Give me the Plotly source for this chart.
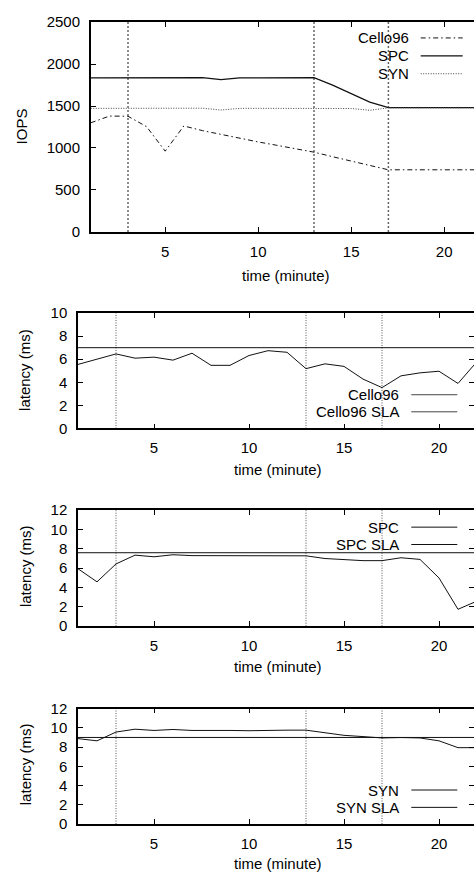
import plotly.graph_objects as go

# ---------------- data ----------------
minutes = list(range(1, 23))
phase_marks = [3, 13, 17]

iops_cello = [1300, 1380, 1378, 1254, 962, 1262, 1207, 1160, 1118, 1072, 1032,
              993, 950, 896, 845, 794, 740, 740, 740, 740, 740, 740]
iops_spc = [1834, 1834, 1835, 1835, 1835, 1836, 1838, 1815, 1836, 1834, 1834,
            1835, 1838, 1748, 1651, 1546, 1480, 1480, 1480, 1480, 1480, 1480]
iops_syn = [1472, 1472, 1472, 1472, 1472, 1473, 1474, 1452, 1472, 1472, 1472,
            1472, 1472, 1472, 1470, 1449, 1478, 1478, 1478, 1478, 1478, 1478]

lat_cello = [5.55, 6.0, 6.46, 6.09, 6.18, 5.92, 6.52, 5.47, 5.47, 6.32, 6.74,
             6.6, 5.18, 5.6, 5.38, 4.28, 3.54, 4.56, 4.82, 4.96, 3.9, 5.8]
lat_spc = [5.94, 4.59, 6.44, 7.35, 7.18, 7.39, 7.3, 7.3, 7.3, 7.28, 7.28,
           7.28, 7.28, 7.0, 6.88, 6.78, 6.78, 7.08, 6.91, 4.99, 1.75, 2.6]
lat_syn = [8.88, 8.65, 9.56, 9.86, 9.73, 9.83, 9.73, 9.76, 9.73, 9.7, 9.76,
           9.76, 9.76, 9.49, 9.22, 9.09, 8.95, 8.99, 8.95, 8.65, 7.94, 7.94]

sla_cello = 7.0
sla_spc = 7.6
sla_syn = 9.0

x_ticks = [5, 10, 15, 20]

# ---------------- layout helpers ----------------
W, H = 474, 885
FONT = "Liberation Sans, Arial, sans-serif"


def fx(px):
    return px / W


def fy(py):
    return 1 - py / H


fig = go.Figure()

# top: IOPS
fig.add_trace(go.Scatter(x=minutes, y=iops_cello, mode="lines", xaxis="x", yaxis="y",
                         line=dict(color="#111", width=1, dash="5px,3px,1.5px,3px")))
fig.add_trace(go.Scatter(x=minutes, y=iops_spc, mode="lines", xaxis="x", yaxis="y",
                         line=dict(color="#111", width=1.2)))
fig.add_trace(go.Scatter(x=minutes, y=iops_syn, mode="lines", xaxis="x", yaxis="y",
                         line=dict(color="#444", width=1, dash="1px,1.5px")))

# latency panels
fig.add_trace(go.Scatter(x=minutes, y=lat_cello, mode="lines", xaxis="x2", yaxis="y2",
                         line=dict(color="#111", width=1)))
fig.add_trace(go.Scatter(x=minutes, y=[sla_cello] * len(minutes), mode="lines", xaxis="x2", yaxis="y5",
                         line=dict(color="#111", width=1)))
fig.add_trace(go.Scatter(x=minutes, y=lat_spc, mode="lines", xaxis="x3", yaxis="y3",
                         line=dict(color="#111", width=1)))
fig.add_trace(go.Scatter(x=minutes, y=[sla_spc] * len(minutes), mode="lines", xaxis="x3", yaxis="y6",
                         line=dict(color="#111", width=1)))
fig.add_trace(go.Scatter(x=minutes, y=lat_syn, mode="lines", xaxis="x4", yaxis="y4",
                         line=dict(color="#111", width=1)))
fig.add_trace(go.Scatter(x=minutes, y=[sla_syn] * len(minutes), mode="lines", xaxis="x4", yaxis="y7",
                         line=dict(color="#111", width=1)))

tickfont = dict(family=FONT, size=15, color="black")


def xax(left_px, ppu, anchor):
    return dict(domain=[fx(left_px), 1], range=[1, 1 + (W - left_px) / ppu], anchor=anchor,
                tickvals=x_ticks, ticks="inside", ticklen=5, tickwidth=1, tickcolor="black",
                showline=True, linecolor="black", linewidth=1.5, mirror="ticks",
                showgrid=False, zeroline=False, tickfont=tickfont, ticklabelstandoff=5)


def yax(top_px, bot_px, rng, dtick, anchor):
    return dict(domain=[fy(bot_px), fy(top_px)], range=rng, dtick=dtick, anchor=anchor,
                ticks="inside", ticklen=5, tickwidth=1, tickcolor="black",
                showline=True, linecolor="black", linewidth=1.5, mirror=False,
                showgrid=False, zeroline=False, tickfont=tickfont, ticklabelstandoff=6)


def yright(over, rng, dtick, anchor):
    return dict(overlaying=over, side="right", anchor=anchor, range=rng, dtick=dtick,
                ticks="inside", ticklen=5, tickwidth=1, tickcolor="black",
                showticklabels=False, showline=False, showgrid=False, zeroline=False)


panels = [
    (13.3, 227.3),
    (310.0, 427.7),
    (511.0, 629.3),
    (713.3, 831.0),
]

layout = dict(
    width=W, height=H, margin=dict(l=0, r=0, t=0, b=0),
    paper_bgcolor="white", plot_bgcolor="white", showlegend=False,
    font=dict(family=FONT, size=15, color="black"),
    xaxis=xax(90.8, 18.6, "y"),
    yaxis=yax(*panels[0], [0, 2500], 500, "x"),
    xaxis2=xax(78.0, 19.0, "y2"),
    yaxis2=yax(*panels[1], [0, 10], 2, "x2"),
    xaxis3=xax(78.0, 19.0, "y3"),
    yaxis3=yax(*panels[2], [0, 12], 2, "x3"),
    xaxis4=xax(78.0, 19.0, "y4"),
    yaxis4=yax(*panels[3], [0, 12], 2, "x4"),
    yaxis5=yright("y2", [0, 10], 2, "x2"),
    yaxis6=yright("y3", [0, 12], 2, "x3"),
    yaxis7=yright("y4", [0, 12], 2, "x4"),
)
fig.update_layout(**layout)

# phase change markers
for i, (xr, yr) in enumerate([("x", "y"), ("x2", "y2"), ("x3", "y3"), ("x4", "y4")]):
    for m in phase_marks:
        if i == 0:
            ln = dict(color="#666", width=1.5, dash="2px,2px")
        else:
            ln = dict(color="#555", width=1, dash="1px,1.5px")
        fig.add_shape(type="line", xref=xr, yref=yr + " domain", x0=m, x1=m, y0=0, y1=1,
                      line=ln, layer="below")

annotations = []
# x titles
for cx, cy in [(286, 272), (277.5, 470), (277.5, 670), (277.5, 871)]:
    annotations.append(dict(text="time (minute)", x=fx(cx), y=fy(cy), xref="paper", yref="paper",
                            showarrow=False, xanchor="center", yanchor="middle",
                            font=dict(family=FONT, size=15)))
# y titles
for txt, cx, cy in [("IOPS", 21.7, 120), ("latency (ms)", 25, 368),
                    ("latency (ms)", 25, 568), ("latency (ms)", 25, 770)]:
    annotations.append(dict(text=txt, x=fx(cx), y=fy(cy), xref="paper", yref="paper",
                            showarrow=False, xanchor="center", yanchor="middle", textangle=-90,
                            font=dict(family=FONT, size=15)))

# legends (gnuplot style: right-aligned label, sample on the right)
legends = [
    (411, 420.7, 462.7, [("Cello96", 29.5, dict(color="#111", width=1, dash="5px,3px,1.5px,3px")),
                         ("SPC", 47.8, dict(color="#111", width=1.2)),
                         ("SYN", 66.0, dict(color="#444", width=1, dash="1px,1.5px"))]),
    (401, 411.3, 457.3, [("Cello96", 393.3, dict(color="#444", width=1)),
                         ("Cello96 SLA", 410.7, dict(color="#444", width=1))]),
    (401, 411.3, 457.3, [("SPC", 528.3, dict(color="#111", width=1)),
                         ("SPC SLA", 546.0, dict(color="#111", width=1))]),
    (401, 411.3, 457.3, [("SYN", 796.3, dict(color="#111", width=1)),
                         ("SYN SLA", 814.0, dict(color="#111", width=1))]),
]
for tx, l0, l1, rows in legends:
    for label, py, ln in rows:
        annotations.append(dict(text=label, x=fx(tx), y=fy(py), xref="paper", yref="paper",
                                showarrow=False, xanchor="right", yanchor="middle",
                                font=dict(family=FONT, size=15)))
        fig.add_shape(type="line", xref="paper", yref="paper", x0=fx(l0), x1=fx(l1),
                      y0=fy(py), y1=fy(py), line=ln)

fig.update_layout(annotations=annotations)

fig.write_html("out.html")
